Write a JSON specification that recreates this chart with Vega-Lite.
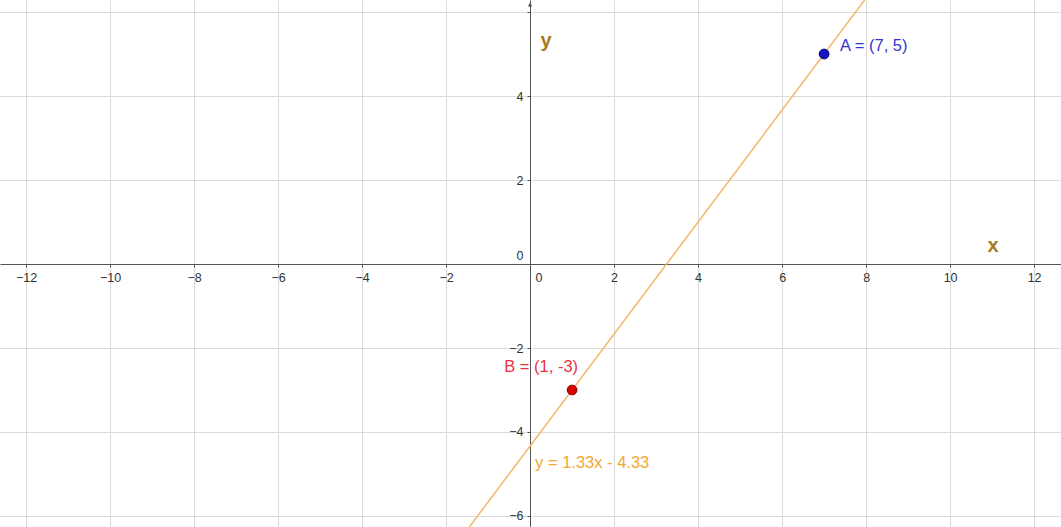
{
  "$schema": "https://vega.github.io/schema/vega-lite/v6.json",
  "width": 1061,
  "height": 527,
  "padding": 0,
  "autosize": {"type": "none"},
  "background": "white",
  "config": {"view": {"stroke": null}, "font": "Liberation Sans"},
  "datasets": {
    "line": [{"x": -1.7, "y": -6.6}, {"x": 8.2, "y": 6.6}],
    "points": [
      {"name": "A", "x": 7, "y": 5, "label": "A = (7, 5)"},
      {"name": "B", "x": 1, "y": -3, "label": "B = (1, -3)"}
    ],
    "eq": [{"x": 0, "y": -4.333, "label": "y = 1.33x - 4.33"}],
    "names": [
      {"x": 11.02, "y": 0.42, "label": "x"},
      {"x": 0.38, "y": 5.32, "label": "y"}
    ],
    "arrow": [{"x": 0, "y": 6.18}]
  },
  "encoding": {
    "x": {
      "field": "x",
      "type": "quantitative",
      "scale": {"domain": [-12.62, 12.64], "nice": false, "zero": false},
      "axis": {
        "values": [-12, -10, -8, -6, -4, -2, 0, 2, 4, 6, 8, 10, 12],
        "title": null,
        "offset": -263,
        "grid": true,
        "gridColor": "#dadada",
        "gridWidth": 1,
        "domainColor": "#555555",
        "domainWidth": 1,
        "tickColor": "#555555",
        "tickSize": 3,
        "labelFontSize": 12.5,
        "labelColor": "#333333",
        "labelPadding": 4,
        "labelFlush": false,
        "labelOverlap": false,
        "labelAlign": {"condition": {"test": "datum.value == 0", "value": "left"}, "value": "center"},
        "labelOffset": {"condition": {"test": "datum.value == 0", "value": 5}, "value": 0}
      }
    },
    "y": {
      "field": "y",
      "type": "quantitative",
      "scale": {"domain": [-6.262, 6.286], "nice": false, "zero": false},
      "axis": {
        "values": [-6, -4, -2, 0, 2, 4, 6],
        "title": null,
        "offset": -530,
        "grid": true,
        "gridColor": "#dadada",
        "gridWidth": 1,
        "domainColor": "#555555",
        "domainWidth": 1,
        "tickColor": "#555555",
        "tickSize": 3,
        "labelFontSize": 12.5,
        "labelColor": "#333333",
        "labelPadding": 4,
        "labelFlush": false,
        "labelOverlap": false,
        "labelExpr": "datum.value == 6 ? '' : datum.label",
        "labelBaseline": {"condition": {"test": "datum.value == 0", "value": "bottom"}, "value": "middle"},
        "labelOffset": {"condition": {"test": "datum.value == 0", "value": -2}, "value": 0}
      }
    }
  },
  "layer": [
    {
      "data": {"name": "line"},
      "mark": {"type": "line", "color": "#f2b866", "strokeWidth": 1.5, "clip": true}
    },
    {
      "data": {"name": "arrow"},
      "mark": {"type": "point", "shape": "triangle-up", "filled": true, "color": "#555555", "size": 20, "opacity": 1}
    },
    {
      "data": {"name": "points"},
      "mark": {"type": "point", "filled": true, "size": 95, "opacity": 1, "strokeWidth": 1},
      "encoding": {
        "fill": {"field": "name", "type": "nominal", "scale": {"domain": ["A", "B"], "range": ["#1616c0", "#dd0000"]}, "legend": null},
        "stroke": {"field": "name", "type": "nominal", "scale": {"domain": ["A", "B"], "range": ["#000070", "#800000"]}, "legend": null}
      }
    },
    {
      "data": {"name": "points"},
      "transform": [{"filter": "datum.name == 'A'"}],
      "mark": {"type": "text", "align": "left", "baseline": "middle", "dx": 16, "dy": -8, "fontSize": 16.5, "color": "#3434cc"},
      "encoding": {"text": {"field": "label"}}
    },
    {
      "data": {"name": "points"},
      "transform": [{"filter": "datum.name == 'B'"}],
      "mark": {"type": "text", "align": "right", "baseline": "middle", "dx": 6, "dy": -23, "fontSize": 16.5, "color": "#e8323f"},
      "encoding": {"text": {"field": "label"}}
    },
    {
      "data": {"name": "eq"},
      "mark": {"type": "text", "align": "left", "baseline": "middle", "dx": 5, "dy": 17, "fontSize": 16.5, "color": "#f0a830"},
      "encoding": {"text": {"field": "label"}}
    },
    {
      "data": {"name": "names"},
      "mark": {"type": "text", "align": "center", "baseline": "middle", "fontSize": 20, "fontWeight": "bold", "color": "#a87a22"},
      "encoding": {"text": {"field": "label"}}
    }
  ]
}
